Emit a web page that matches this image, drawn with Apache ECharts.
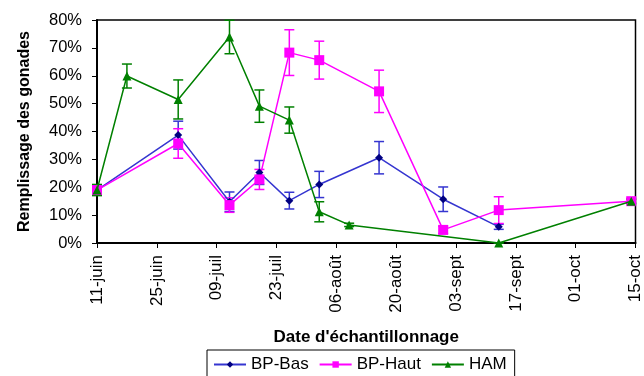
<!DOCTYPE html>
<html><head><meta charset="utf-8">
<script src="https://cdn.jsdelivr.net/npm/echarts@6/dist/echarts.min.js"></script>
<style>html,body{margin:0;padding:0;background:#fff}#c{width:644px;height:376px}</style>
</head><body><div id="c"></div>
<script>
// ---- data ----
const startDate = '2007-06-11';
const tickLabels = ['11-juin','25-juin','09-juil','23-juil','06-août','20-août','03-sept','17-sept','01-oct','15-oct'];

const basDates = ['2007-06-11','2007-06-30','2007-07-12','2007-07-19','2007-07-26','2007-08-02','2007-08-16','2007-08-31','2007-09-13'];
const basValues = [19, 38.7, 14.8, 25.3, 15.2, 21, 30.6, 15.7, 5.8];
const basErrors = [1.5, 5, 3.5, 4.3, 3, 4.7, 5.8, 4.4, 0.9];

const hautDates = ['2007-06-11','2007-06-30','2007-07-12','2007-07-19','2007-07-26','2007-08-02','2007-08-16','2007-08-31','2007-09-13','2007-10-14'];
const hautValues = [19, 35.7, 13.6, 22.8, 68.3, 65.6, 54.4, 4.7, 11.8, 15];
const hautErrors = [1, 5.3, 2.6, 3.6, 8.2, 6.8, 7.6, 1.3, 4.8, 1];

const hamDates = ['2007-06-11','2007-06-18','2007-06-30','2007-07-12','2007-07-19','2007-07-26','2007-08-02','2007-08-09','2007-09-13','2007-10-14'];
const hamValues = [19, 59.9, 51.5, 73.9, 49.1, 44.1, 11.2, 6.5, 0, 15];
const hamErrors = [2, 4.3, 7, 6, 5.8, 4.7, 3.6, 0.6, 0, 0.7];

// ---- helpers ----
const FONT = "'Liberation Sans', Arial, sans-serif";
function dayOf(s){ return Math.round((Date.parse(s) - Date.parse(startDate)) / 86400000); }
function pts(dates, vals){ return dates.map((d,i)=>[dayOf(d), vals[i]]); }
function errs(dates, vals, e){ return dates.map((d,i)=>[dayOf(d), vals[i]-e[i], vals[i]+e[i]]); }

function errSeries(name, data, color){
  return {
    name: name, type: 'custom', data: data, z: 1,
    renderItem: function(params, api){
      const x = api.value(0);
      const lo = api.coord([x, api.value(1)]);
      const hi = api.coord([x, api.value(2)]);
      const w = 5;
      const st = {stroke: color, lineWidth: 1.5};
      return {type:'group', children:[
        {type:'line', shape:{x1:lo[0], y1:lo[1], x2:hi[0], y2:hi[1]}, style: st},
        {type:'line', shape:{x1:lo[0]-w, y1:lo[1], x2:lo[0]+w, y2:lo[1]}, style: st},
        {type:'line', shape:{x1:hi[0]-w, y1:hi[1], x2:hi[0]+w, y2:hi[1]}, style: st}
      ]};
    }
  };
}

const chart = echarts.init(document.getElementById('c'));
chart.setOption({
  animation: false,
  textStyle: {fontFamily: FONT},
  grid: {left: 97, right: 8, top: 20, bottom: 133, show: true, borderColor: '#000', borderWidth: 1.5, backgroundColor: 'transparent'},
  legend: {
    data: ['BP-Bas','BP-Haut','HAM'],
    left: 207, top: 350,
    borderColor: '#000', borderWidth: 1, padding: [6, 8, 6, 6],
    itemWidth: 32, itemHeight: 8, itemGap: 10,
    textStyle: {fontSize: 17, color: '#000', fontFamily: FONT}
  },
  xAxis: {
    type: 'value', min: 0, max: 126, interval: 14,
    name: "Date d'échantillonnage", nameLocation: 'middle', nameGap: 86,
    nameTextStyle: {fontSize: 17, fontWeight: 'bold', color: '#000', fontFamily: FONT},
    axisLine: {lineStyle: {color: '#000', width: 2}},
    axisTick: {show: true, inside: false, length: 5, lineStyle: {color: '#000', width: 1}},
    splitLine: {show: false},
    axisLabel: {rotate: 90, fontSize: 17, color: '#000', margin: 12, fontFamily: FONT,
      formatter: function(v){ return tickLabels[Math.round(v/14)] || ''; }}
  },
  yAxis: {
    type: 'value', min: 0, max: 80, interval: 10,
    name: 'Remplissage des gonades', nameLocation: 'middle', nameGap: 64,
    nameTextStyle: {fontSize: 16, fontWeight: 'bold', color: '#000', fontFamily: FONT},
    axisLine: {show: true, lineStyle: {color: '#000', width: 2}},
    axisTick: {show: true, inside: false, length: 5, lineStyle: {color: '#000', width: 1}},
    splitLine: {show: false},
    axisLabel: {fontSize: 16.5, color: '#000', margin: 15, fontFamily: FONT, formatter: '{value}%'}
  },
  series: [
    errSeries('errBas', errs(basDates, basValues, basErrors), '#3535D0'),
    errSeries('errHaut', errs(hautDates, hautValues, hautErrors), '#FF00FF'),
    errSeries('errHam', errs(hamDates, hamValues, hamErrors), '#008000'),
    {name: 'BP-Bas', type: 'line', data: pts(basDates, basValues), z: 3,
      symbol: 'diamond', symbolSize: 8,
      lineStyle: {color: '#3535D0', width: 1.5}, itemStyle: {color: '#000080'}},
    {name: 'BP-Haut', type: 'line', data: pts(hautDates, hautValues), z: 3,
      symbol: 'rect', symbolSize: 10,
      lineStyle: {color: '#FF00FF', width: 1.5}, itemStyle: {color: '#FF00FF'}},
    {name: 'HAM', type: 'line', data: pts(hamDates, hamValues), z: 4,
      symbol: 'triangle', symbolSize: 9,
      lineStyle: {color: '#008000', width: 1.5}, itemStyle: {color: '#008000'}}
  ]
});
</script></body></html>
